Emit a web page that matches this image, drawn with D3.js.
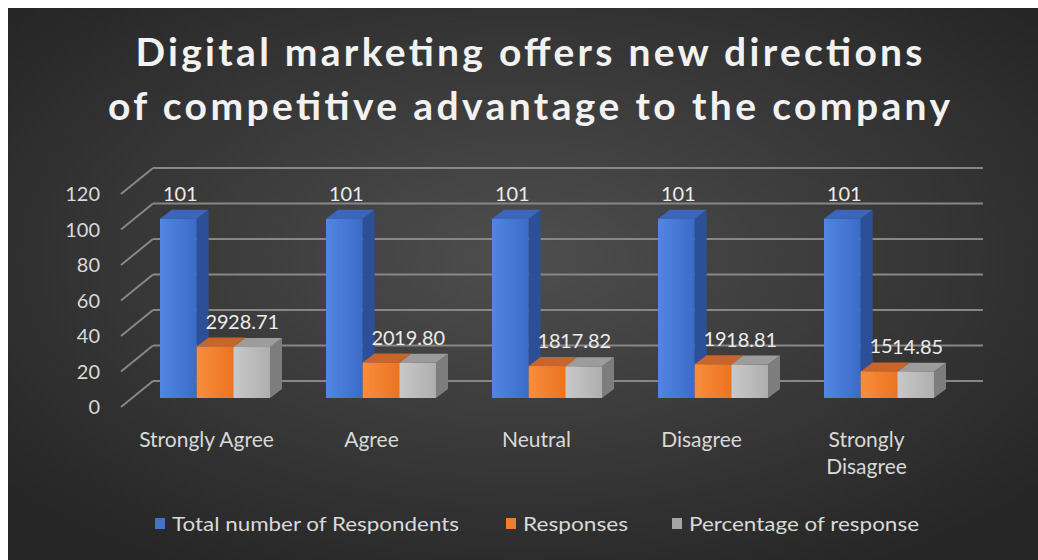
<!DOCTYPE html>
<html><head><meta charset="utf-8">
<script src="https://cdn.jsdelivr.net/npm/d3@7"></script>
<style>html,body{margin:0;padding:0;background:#fff;}svg{display:block;}</style>
</head><body>
<svg id="chart" width="1038" height="560"></svg>
<script>
const titleLines = ["Digital marketing offers new directions", "of competitive advantage to the company"];
const categories = ["Strongly Agree", "Agree", "Neutral", "Disagree", "Strongly Disagree"];
const categoryLines = [["Strongly Agree"], ["Agree"], ["Neutral"], ["Disagree"], ["Strongly", "Disagree"]];
const seriesNames = ["Total number of Respondents", "Responses", "Percentage of response"];
const totalRespondents = [101, 101, 101, 101, 101];
const responses = [29, 20, 18, 19, 15];
const percentageOfResponse = [28.71, 19.80, 17.82, 18.81, 14.85];
const yTicks = [0, 20, 40, 60, 80, 100, 120];

const seriesValues = [totalRespondents, responses, percentageOfResponse];
const labelFormats = [d3.format("d"), d3.format("d"), d3.format(".2f")];

const svg = d3.select("#chart");
const defs = svg.append("defs");
const FONT = "Lato, 'Noto Sans', sans-serif";

// background
const bg = defs.append("radialGradient").attr("id", "bg").attr("cx", "50%").attr("cy", "45%").attr("r", "65%");
bg.append("stop").attr("offset", "0%").attr("stop-color", "#4e4e4e");
bg.append("stop").attr("offset", "100%").attr("stop-color", "#262626");
svg.append("rect").attr("x", 8).attr("y", 8).attr("width", 1030).attr("height", 552).attr("fill", "url(#bg)");

// colours per series: front (left,right), side, top
const palette = [
  {front: ["#5286e2", "#3b6bc8"], side: "#2c4f98", top: "#3c66bb", legend: "#4472c4"},
  {front: ["#f78e3c", "#ec7322"], side: "#b8591c", top: "#c8652a", legend: "#ed7d31"},
  {front: ["#c9c9c9", "#aeaeae"], side: "#7d7d7d", top: "#9c9c9c", legend: "#a5a5a5"}
];
palette.forEach((p, i) => {
  const g = defs.append("linearGradient").attr("id", "front" + i).attr("x1", "0%").attr("x2", "100%").attr("y1", "0%").attr("y2", "0%");
  g.append("stop").attr("offset", "0%").attr("stop-color", p.front[0]);
  g.append("stop").attr("offset", "100%").attr("stop-color", p.front[1]);
});

// scales
const h = d3.scaleLinear().domain([0, 120]).range([0, 213]);
const frontBase = 407, barBase = 398, backBase = 381;
const axisFrontX = 121, axisBackX = 153, backRight = 983;
const depthX = 12, depthY = 9;

const x = d3.scaleBand().domain(categories).range([132, 962]);
const xs = d3.scaleBand().domain(seriesNames).range([28, 138]);
const xLabel = d3.scaleBand().domain(categories).range([124, 949]);

// gridlines (back wall + floor diagonals)
const grid = svg.append("g").attr("stroke", "#878787").attr("stroke-width", 2).attr("fill", "none");
yTicks.forEach(t => {
  grid.append("line").attr("x1", axisBackX).attr("x2", backRight)
    .attr("y1", backBase - h(t)).attr("y2", backBase - h(t));
  grid.append("line").attr("x1", axisFrontX).attr("x2", axisBackX)
    .attr("y1", frontBase - h(t)).attr("y2", backBase - h(t));
});

// y axis labels
svg.append("g").selectAll("text").data(yTicks).join("text")
  .attr("x", 100).attr("y", d => frontBase - h(d)).attr("dy", "0.35em")
  .attr("text-anchor", "end").attr("font-family", FONT).attr("font-size", 20)
  .attr("fill", "#d9d9d9").text(d => d);

// bars
const bars = svg.append("g");
categories.forEach((c, ci) => {
  seriesNames.forEach((s, si) => {
    const v = seriesValues[si][ci];
    const x0 = x(c) + xs(s), w = xs.bandwidth();
    const top = barBase - h(v);
    const p = palette[si];
    const g = bars.append("g");
    g.append("polygon").attr("fill", p.side)
      .attr("points", [[x0 + w, top], [x0 + w + depthX, top - depthY], [x0 + w + depthX, barBase - depthY], [x0 + w, barBase]].join(" "));
    g.append("polygon").attr("fill", p.top)
      .attr("points", [[x0, top], [x0 + depthX, top - depthY], [x0 + w + depthX, top - depthY], [x0 + w, top]].join(" "));
    g.append("rect").attr("x", x0).attr("y", top).attr("width", w).attr("height", h(v))
      .attr("fill", "url(#front" + si + ")");
  });
});

// data labels
const labels = svg.append("g").attr("font-family", FONT).attr("font-size", 20).attr("fill", "#ececec").attr("text-anchor", "middle");
categories.forEach((c, ci) => {
  seriesNames.forEach((s, si) => {
    const v = seriesValues[si][ci];
    labels.append("text")
      .attr("x", x(c) + xs(s) + xs.bandwidth() / 2 + 2)
      .attr("y", barBase - h(v) - 25).attr("dy", "0.35em")
      .text(labelFormats[si](v));
  });
});

// category labels
const catG = svg.append("g").attr("font-family", FONT).attr("font-size", 21).attr("fill", "#d9d9d9").attr("text-anchor", "middle");
categories.forEach((c, ci) => {
  categoryLines[ci].forEach((line, li) => {
    catG.append("text").attr("x", xLabel(c) + xLabel.bandwidth() / 2)
      .attr("y", 440 + li * 27).attr("dy", "0.35em").text(line);
  });
});

// title
const titleG = svg.append("g").attr("font-family", FONT).attr("font-weight", 700).attr("font-size", 39)
  .attr("fill", "#f2f2f2").attr("text-anchor", "middle");
const titleY = [66, 120];
const titleW = [787, 842];
titleLines.forEach((t, i) => {
  titleG.append("text").attr("x", 529).attr("y", titleY[i]).attr("textLength", titleW[i])
    .attr("lengthAdjust", "spacing").text(t);
});

// legend
const legendX = [155, 506, 672];
const legendW = [287, 105, 230];
const leg = svg.append("g").attr("font-family", FONT).attr("font-size", 19).attr("fill", "#d9d9d9");
seriesNames.forEach((s, i) => {
  leg.append("rect").attr("x", legendX[i]).attr("y", 518).attr("width", 10).attr("height", 11).attr("fill", palette[i].legend);
  leg.append("text").attr("x", legendX[i] + 17).attr("y", 524).attr("dy", "0.35em")
    .attr("textLength", legendW[i]).attr("lengthAdjust", "spacingAndGlyphs").text(s);
});
</script>
</body></html>
